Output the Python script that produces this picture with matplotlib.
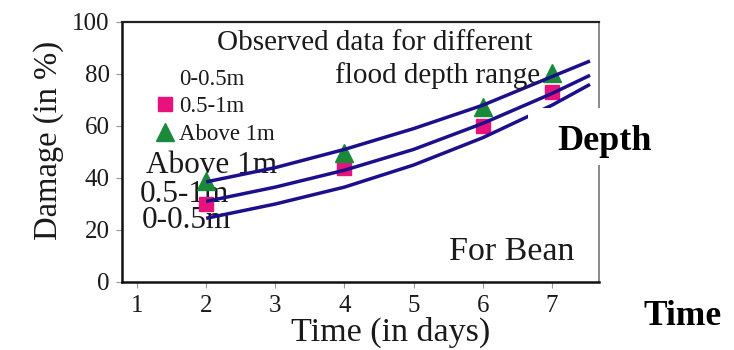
import matplotlib
matplotlib.use("Agg")
import matplotlib.pyplot as plt
from matplotlib.lines import Line2D

plt.rcParams['font.family'] = ['Liberation Serif', 'DejaVu Serif']

# Observed damage for bean at each flood depth range
obs_days = [2, 4, 6, 7]
obs_mid = [30, 44, 60, 73]      # 0.5-1m
obs_high = [39, 49.5, 67.5, 80.5]  # Above 1m

# Fitted damage curves
curve_days = [2, 3, 4, 5, 6, 7, 7.55]
curve_low = [24.5, 30, 36.5, 45, 55.5, 68, 76]
curve_mid = [31, 36.5, 43, 51, 61, 72.5, 79.5]
curve_high = [38.5, 44, 51, 59, 68, 79, 85]

x_ticks = [1, 2, 3, 4, 5, 6, 7]
y_ticks = [0, 20, 40, 60, 80, 100]

line_color = '#1c0f8c'
pink = '#e8127c'
green = '#1a8a3a'
tcol = '#1a1a1a'

fig = plt.figure(figsize=(7.34, 3.5), dpi=100)
ax = fig.add_axes([122 / 734, 68 / 350, 477 / 734, 260 / 350])
ax.set_xlim(0.783, 7.68)
ax.set_ylim(0, 100)

ax.plot(obs_days, obs_mid, linestyle='none', marker='s', markersize=10.5,
        color=pink, zorder=2)
ax.plot(obs_days, obs_high, linestyle='none', marker='^', markersize=12.5,
        color=green, zorder=2)

for ys in (curve_low, curve_mid, curve_high):
    ax.plot(curve_days, ys, color=line_color, lw=2.5, zorder=3,
            solid_capstyle='butt')

ax.set_xticks(x_ticks)
ax.set_yticks(y_ticks)
ax.tick_params(axis='both', direction='out', length=4, width=0.8,
               color='#999999', labelsize=18, pad=5)
for lbl in ax.get_xticklabels() + ax.get_yticklabels():
    lbl.set_color(tcol)

for side in ('left', 'bottom'):
    ax.spines[side].set_linewidth(1.8)
    ax.spines[side].set_color('#111111')
ax.spines['top'].set_linewidth(1.6)
ax.spines['top'].set_color('#222222')
ax.spines['right'].set_linewidth(1.4)
ax.spines['right'].set_color('#888888')

ax.set_xlabel('Time (in days)', fontsize=24.5, labelpad=0, color=tcol)
ax.xaxis.label.set_x((391 - 122) / 477)
ax.set_ylabel('Damage (in %)', fontsize=23.5, labelpad=6, color=tcol)
ax.yaxis.label.set_y(0.546)

ax.text(4.44, 89.2, 'Observed data for different', fontsize=21, color=tcol,
        ha='center')
ax.text(5.35, 76.5, 'flood depth range', fontsize=21, color=tcol, ha='center')

handles = [Line2D([], [], linestyle='none'),
           Line2D([], [], linestyle='none', marker='s', markersize=10.5, color=pink),
           Line2D([], [], linestyle='none', marker='^', markersize=12.5, color=green)]
leg = ax.legend(handles, ['0-0.5m', '0.5-1m', 'Above 1m'], loc='upper left',
                bbox_to_anchor=(0.07, 0.82), frameon=False, fontsize=16.5,
                handlelength=0.8, handletextpad=0.25, labelspacing=0.28,
                borderpad=0, borderaxespad=0)
for t in leg.get_texts():
    t.set_color(tcol)

ax.text(2.08, 41.9, 'Above 1m', fontsize=22.5, color=tcol, ha='center', zorder=1)
ax.text(1.68, 30.8, '0.5-1m', fontsize=22.5, color=tcol, ha='center', zorder=1)
ax.text(1.716, 20.8, '0-0.5m', fontsize=22.5, color=tcol, ha='center', zorder=1)
ax.text(6.42, 8.5, 'For Bean', fontsize=24.5, color=tcol, ha='center')

fig.patches.append(plt.Rectangle((528 / 734, (350 - 165) / 350), 200 / 734, 57 / 350,
                                 transform=fig.transFigure, facecolor='white',
                                 edgecolor='none', zorder=10))
fig.text(605 / 734, 200 / 350, 'Depth', fontsize=26, fontweight='bold',
         color='black', ha='center', zorder=11)
fig.text(683 / 734, 25 / 350, 'Time', fontsize=25.5, fontweight='bold',
         color='black', ha='center', zorder=11)

fig.savefig('out.png', dpi=100)
